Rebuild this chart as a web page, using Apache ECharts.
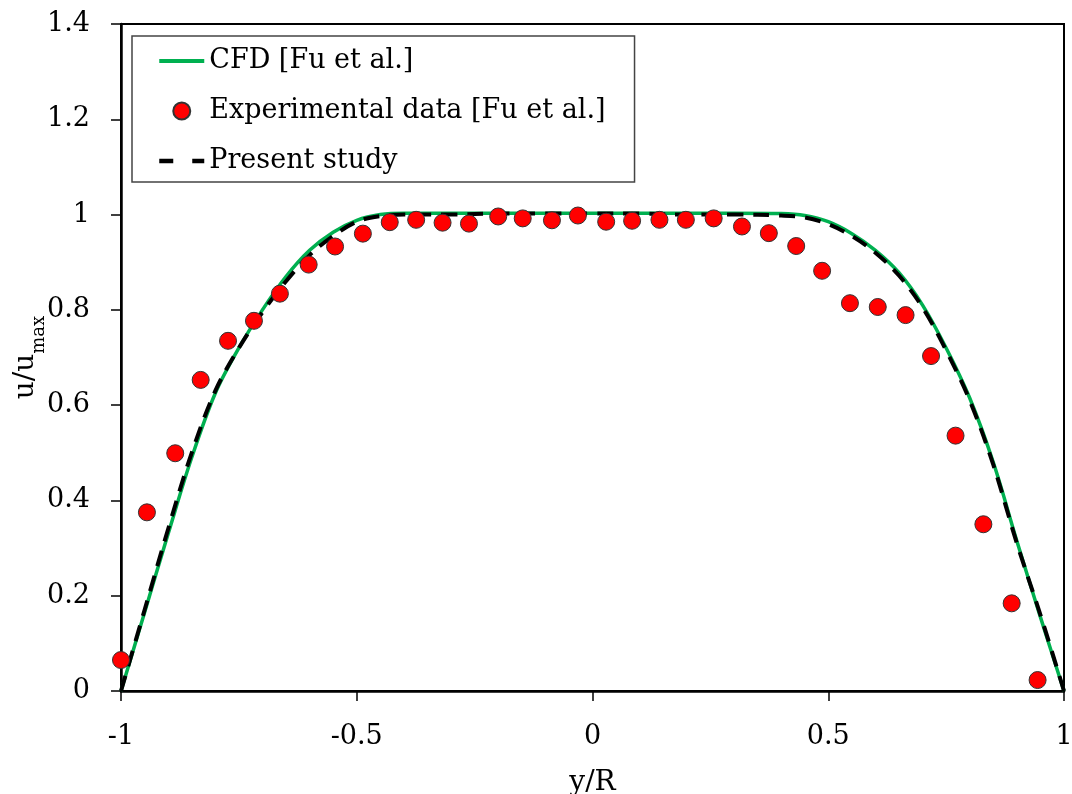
<!DOCTYPE html>
<html>
<head>
<meta charset="utf-8">
<title>u/umax profile</title>
<script src="https://cdn.jsdelivr.net/npm/echarts@6/dist/echarts.min.js"></script>
<style>
    html, body { margin: 0; padding: 0; background: #fff; }
    #chart { width: 1072px; height: 794px; }
</style>
</head>
<body>
<div id="chart"></div>
<script>
// CFD [Fu et al.]
const cfdX = [-1, -0.95, -0.9, -0.85, -0.8, -0.75, -0.7, -0.65, -0.6, -0.55, -0.5, -0.45, -0.4, -0.3, -0.2, -0.1, 0, 0.1, 0.2, 0.3, 0.4, 0.45, 0.5, 0.55, 0.6, 0.65, 0.7, 0.75, 0.8, 0.85, 0.9, 0.95, 1];
const cfdY = [0, 0.165, 0.33, 0.49, 0.625, 0.72, 0.8, 0.87, 0.925, 0.963, 0.988, 1.0, 1.003, 1.003, 1.003, 1.003, 1.003, 1.003, 1.003, 1.003, 1.002, 0.998, 0.985, 0.96, 0.925, 0.878, 0.81, 0.72, 0.615, 0.48, 0.315, 0.155, 0];

// Present study
const presentX = [-1, -0.95, -0.9, -0.85, -0.8, -0.75, -0.7, -0.65, -0.6, -0.55, -0.5, -0.45, -0.4, -0.3, -0.2, -0.1, 0, 0.1, 0.2, 0.3, 0.4, 0.45, 0.5, 0.55, 0.6, 0.65, 0.7, 0.75, 0.8, 0.85, 0.9, 0.95, 1];
const presentY = [0, 0.17, 0.34, 0.5, 0.63, 0.72, 0.795, 0.86, 0.915, 0.955, 0.985, 0.997, 1.0, 1.0, 1.002, 1.002, 1.002, 1.002, 1.0, 1.0, 0.998, 0.994, 0.98, 0.955, 0.92, 0.872, 0.805, 0.715, 0.61, 0.475, 0.31, 0.16, 0];

// Experimental data [Fu et al.]
const expX = [-1.0, -0.945, -0.885, -0.831, -0.773, -0.718, -0.663, -0.602, -0.546, -0.487, -0.43, -0.374, -0.318, -0.262, -0.2, -0.148, -0.086, -0.031, 0.029, 0.084, 0.142, 0.198, 0.257, 0.317, 0.374, 0.432, 0.487, 0.546, 0.605, 0.664, 0.718, 0.77, 0.829, 0.889, 0.944];
const expY = [0.065, 0.375, 0.499, 0.653, 0.735, 0.777, 0.834, 0.895, 0.933, 0.96, 0.984, 0.989, 0.983, 0.981, 0.996, 0.992, 0.988, 0.998, 0.985, 0.987, 0.989, 0.989, 0.992, 0.975, 0.961, 0.934, 0.882, 0.814, 0.806, 0.789, 0.703, 0.536, 0.35, 0.184, 0.023];

const zip = (xs, ys) => xs.map((x, i) => [x, ys[i]]);

const font = 'DejaVu Serif';
const chart = echarts.init(document.getElementById('chart'));

const option = {
    backgroundColor: '#fff',
    animation: false,
    textStyle: { fontFamily: font, color: '#000' },
    grid: {
        left: 121,
        right: 8,
        top: 24,
        bottom: 103,
        outerBoundsMode: 'none',
        containLabel: false,
        show: true,
        borderColor: '#000',
        borderWidth: 2
    },
    legend: {
        orient: 'vertical',
        left: 132,
        top: 36,
        data: [
            {
                name: 'CFD [Fu et al.]',
                itemStyle: { opacity: 0 },
                lineStyle: { color: '#00b050', width: 4, type: 'solid' }
            },
            {
                name: 'Experimental data [Fu et al.]'
            },
            {
                name: 'Present study',
                itemStyle: { opacity: 0 },
                lineStyle: { color: '#000', width: 4.5, type: [14, 19] }
            }
        ],
        itemWidth: 45,
        itemHeight: 17,
        itemGap: 20,
        padding: [10, 29, 6, 25],
        backgroundColor: '#fff',
        borderColor: '#444',
        borderWidth: 1.5,
        borderRadius: 0,
        textStyle: { fontFamily: font, fontSize: 27, color: '#000', lineHeight: 30 }
    },
    xAxis: {
        type: 'value',
        min: -1,
        max: 1,
        interval: 0.5,
        name: 'y/R',
        nameLocation: 'middle',
        nameGap: 78,
        nameMoveOverlap: false,
        nameTextStyle: { fontFamily: font, fontSize: 28, color: '#000' },
        axisLine: { onZero: false, lineStyle: { color: '#000', width: 2.5 } },
        axisTick: { inside: false, length: 10, lineStyle: { color: '#000', width: 1.5 } },
        axisLabel: { margin: 32, fontFamily: font, fontSize: 27, color: '#000' },
        splitLine: { show: false }
    },
    yAxis: {
        type: 'value',
        min: 0,
        max: 1.4,
        interval: 0.2,
        name: '{a|u/u}{b|max}',
        nameLocation: 'middle',
        nameRotate: 90,
        nameGap: 81,
        nameMoveOverlap: false,
        nameTextStyle: {
            rich: {
                a: { fontFamily: font, fontSize: 28, color: '#000', lineHeight: 34, verticalAlign: 'bottom' },
                b: { fontFamily: font, fontSize: 18, color: '#000', lineHeight: 34, verticalAlign: 'bottom', padding: [0, 0, -8, 0] }
            }
        },
        axisLine: { onZero: false, lineStyle: { color: '#000', width: 2.5 } },
        axisTick: { inside: false, length: 10, lineStyle: { color: '#000', width: 1.5 } },
        axisLabel: {
            margin: 31,
            fontFamily: font,
            fontSize: 27,
            color: '#000',
            formatter: v => String(Math.round(v * 10) / 10)
        },
        splitLine: { show: false }
    },
    series: [
        {
            name: 'CFD [Fu et al.]',
            type: 'line',
            data: zip(cfdX, cfdY),
            symbol: 'none',
            smooth: 0.35,
            lineStyle: { color: '#00b050', width: 3.5 },
            itemStyle: { color: '#00b050' },
            z: 2
        },
        {
            name: 'Present study',
            type: 'line',
            data: zip(presentX, presentY),
            symbol: 'none',
            smooth: 0.35,
            lineStyle: { color: '#000', width: 4, type: [16, 10] },
            itemStyle: { color: '#000' },
            z: 3
        },
        {
            name: 'Experimental data [Fu et al.]',
            type: 'scatter',
            data: zip(expX, expY),
            symbol: 'circle',
            symbolSize: 17,
            itemStyle: { color: '#ff0000', borderColor: '#333', borderWidth: 1, opacity: 1 },
            z: 4
        }
    ]
};

chart.setOption(option);
</script>
</body>
</html>
